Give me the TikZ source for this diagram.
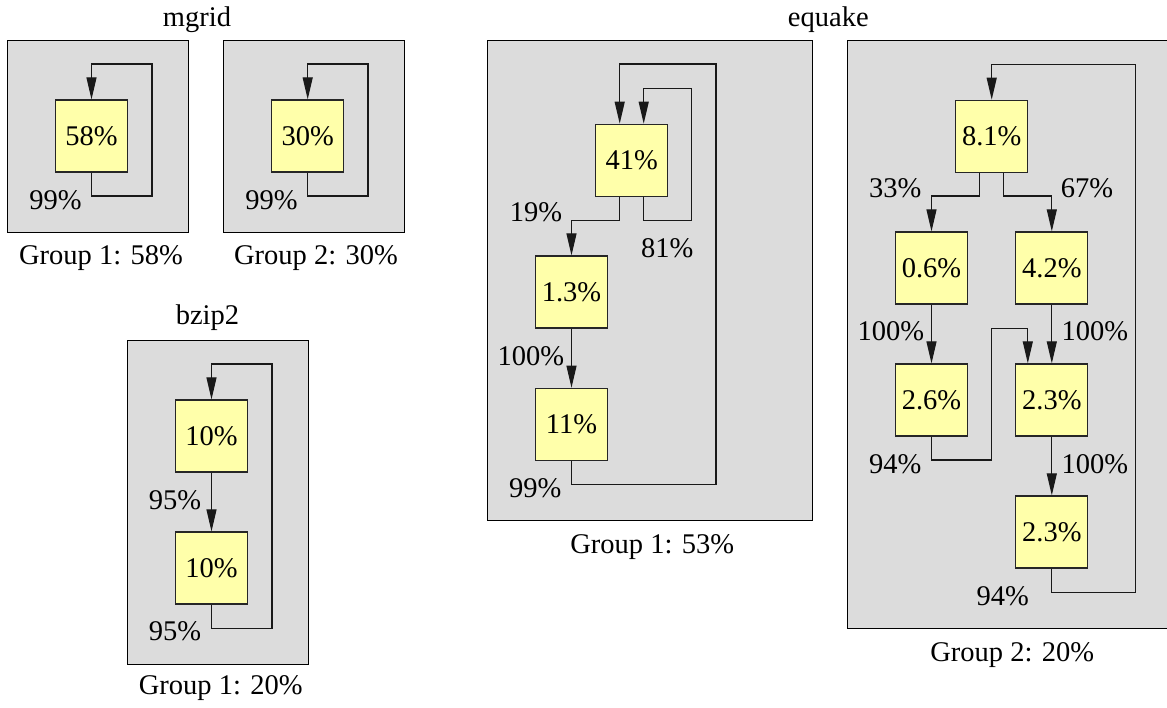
\documentclass[tikz,border=0pt]{standalone}
\usepackage{fontspec}
\setmainfont{Liberation Serif}
\usetikzlibrary{arrows.meta}
\definecolor{clgray}{HTML}{DCDCDC}
\definecolor{ndyellow}{HTML}{FFFFAA}
\tikzset{
  cluster/.style={draw=black, fill=clgray, line width=1pt},
  blk/.style={draw=black!85, fill=ndyellow, line width=1.2pt, minimum width=72pt, minimum height=72pt, inner sep=0pt, font=\fontsize{28.5}{30}\selectfont},
  lbl/.style={inner sep=0pt, font=\fontsize{28.5}{30}\selectfont},
  ttl/.style={inner sep=0pt, font=\fontsize{28.5}{30}\selectfont},
  arr/.style={draw=black!90, line width=1.1pt, -{Triangle[length=22pt,width=10pt]}},
  ln/.style={draw=black!90, line width=1.1pt}
}
\begin{document}
\begin{tikzpicture}[x=1pt,y=-1pt]
\useasboundingbox (0,0) rectangle (1167,707);
\clip (0,0) rectangle (1167,707);
% ---------------- mgrid ----------------
\node[ttl] (tmg) at (197,20) {mgrid};
\draw[cluster] (7,40) rectangle (188,232);
\draw[cluster] (223,40) rectangle (404,232);
\node[blk] (m1) at (91.5,136) {58\%};
\node[blk] (m2) at (307.7,136) {30\%};
\draw[arr] (m1.south) |- (152,196) |- (91.5,64) -- (m1.north);
\draw[arr] (m2.south) |- (368,196) |- (307.7,64) -- (m2.north);
\node[lbl] (lm1) at (55.5,200) {99\%};
\node[lbl] (lm2) at (271.5,200) {99\%};
\node[ttl] (gm1) at (101,258) {Group 1: 58\%};
\node[ttl] (gm2) at (316,258) {Group 2: 30\%};
% ---------------- bzip2 ----------------
\node[ttl] (tbz) at (207.5,318) {bzip2};
\draw[cluster] (127.3,340.3) rectangle (308.3,664.3);
\node[blk] (b1) at (211.5,436) {10\%};
\node[blk] (b2) at (211.5,568) {10\%};
\draw[arr] (b1) -- (b2);
\draw[arr] (b2.south) |- (272,628.3) |- (211.5,364) -- (b1.north);
\node[lbl] (lb1) at (175,500) {95\%};
\node[lbl] (lb2) at (175,631.7) {95\%};
\node[ttl] (gb1) at (220.8,688.3) {Group 1: 20\%};
% ---------------- equake ----------------
\node[ttl] (teq) at (828.3,20) {equake};
% group 1
\draw[cluster] (487.3,40.3) rectangle (812,520);
\node[blk] (e41) at (631.7,160.3) {41\%};
\node[blk] (e13) at (571.5,292) {1.3\%};
\node[blk] (e11) at (571.5,424.3) {11\%};
\draw[arr] (e11.south) |- (716,484.3) |- (619.7,64) -- ([xshift=-12pt]e41.north);
\draw[arr] ([xshift=12pt]e41.south) |- (691.7,220.3) |- (643.7,88.3) -- ([xshift=12pt]e41.north);
\draw[arr] ([xshift=-12pt]e41.south) |- (571.5,220.3) -- (e13.north);
\draw[arr] (e13) -- (e11);
\node[lbl] (l19) at (536,212) {19\%};
\node[lbl] (l81) at (667.3,248) {81\%};
\node[lbl] (l100a) at (530.8,356) {100\%};
\node[lbl] (l99) at (535.3,488.3) {99\%};
\node[ttl] (ge1) at (652.3,546.7) {Group 1: 53\%};
% group 2
\draw[cluster] (847.3,40) rectangle (1180,628);
\node[blk] (f81) at (991.7,136.3) {8.1\%};
\node[blk] (f06) at (931.5,268) {0.6\%};
\node[blk] (f42) at (1051.8,268) {4.2\%};
\node[blk] (f26) at (931.5,400) {2.6\%};
\node[blk] (f23a) at (1051.8,400) {2.3\%};
\node[blk] (f23b) at (1051.8,532) {2.3\%};
\draw[arr] (f23b.south) |- (1135.7,592.3) |- (991.7,64.3) -- (f81.north);
\draw[arr] ([xshift=-12pt]f81.south) |- (931.5,196) -- (f06.north);
\draw[arr] ([xshift=12pt]f81.south) |- (1051.8,196) -- (f42.north);
\draw[arr] (f06) -- (f26);
\draw[arr] (f42) -- (f23a);
\draw[arr] (f26.south) |- (991.7,460) |- (1027.8,328.3) -- ([xshift=-24pt]f23a.north);
\draw[arr] (f23a) -- (f23b);
\node[lbl] (l33) at (895.3,188.3) {33\%};
\node[lbl] (l67) at (1087,188.3) {67\%};
\node[lbl] (l100b) at (890.8,331.7) {100\%};
\node[lbl] (l100c) at (1094.8,331.7) {100\%};
\node[lbl] (l94a) at (895.3,464.3) {94\%};
\node[lbl] (l100d) at (1094.8,464.3) {100\%};
\node[lbl] (l94b) at (1002.8,596) {94\%};
\node[ttl] (ge2) at (1012.3,655) {Group 2: 20\%};
\end{tikzpicture}
\end{document}
